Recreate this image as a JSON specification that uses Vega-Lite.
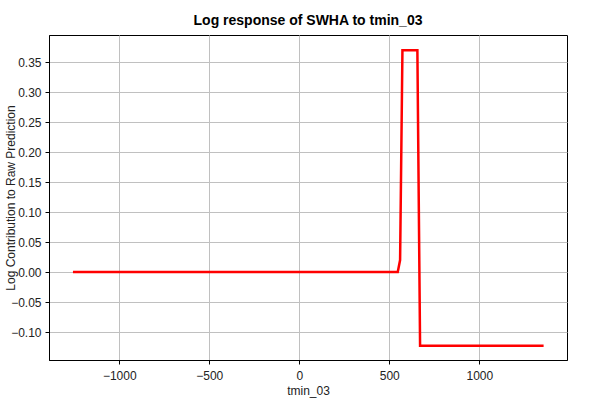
{
  "$schema": "https://vega.github.io/schema/vega-lite/v6.json",
  "autosize": "none",
  "width": 518,
  "height": 325,
  "padding": {"left": 49, "top": 35, "right": 33, "bottom": 40},
  "background": "white",
  "title": {"text": "Log response of SWHA to tmin_03", "font": "Liberation Sans", "fontSize": 14, "fontWeight": "bold", "color": "black", "anchor": "middle", "offset": 7},
  "config": {
    "view": {"stroke": "black", "strokeWidth": 1},
    "axis": {
      "labelFont": "Liberation Sans", "labelFontSize": 12, "labelColor": "#222222",
      "titleFont": "Liberation Sans", "titleFontSize": 12, "titleFontWeight": "normal", "titleColor": "#222222",
      "gridColor": "#c0c0c0", "gridWidth": 1, "gridOpacity": 1,
      "domainColor": "black", "tickColor": "black", "tickSize": 4
    }
  },
  "data": {"values": [
    {"x": -1257, "y": 0},
    {"x": 547, "y": 0},
    {"x": 560, "y": 0.02},
    {"x": 573, "y": 0.37},
    {"x": 656, "y": 0.37},
    {"x": 671, "y": -0.123},
    {"x": 1357, "y": -0.123}
  ]},
  "mark": {"type": "line", "color": "#ff0000", "strokeWidth": 2.5},
  "encoding": {
    "x": {"field": "x", "type": "quantitative", "scale": {"domain": [-1390, 1487], "nice": false, "zero": false},
      "axis": {"title": "tmin_03", "values": [-1000, -500, 0, 500, 1000], "format": "d", "labelPadding": 6, "titlePadding": 4}},
    "y": {"field": "y", "type": "quantitative", "scale": {"domain": [-0.1467, 0.3955], "nice": false, "zero": false},
      "axis": {"title": "Log Contribution to Raw Prediction", "values": [-0.1, -0.05, 0, 0.05, 0.1, 0.15, 0.2, 0.25, 0.3, 0.35], "format": ".2f", "labelPadding": 4, "titleX": -39, "titleBaseline": "middle", "titleFontSize": 12}}
  }
}
